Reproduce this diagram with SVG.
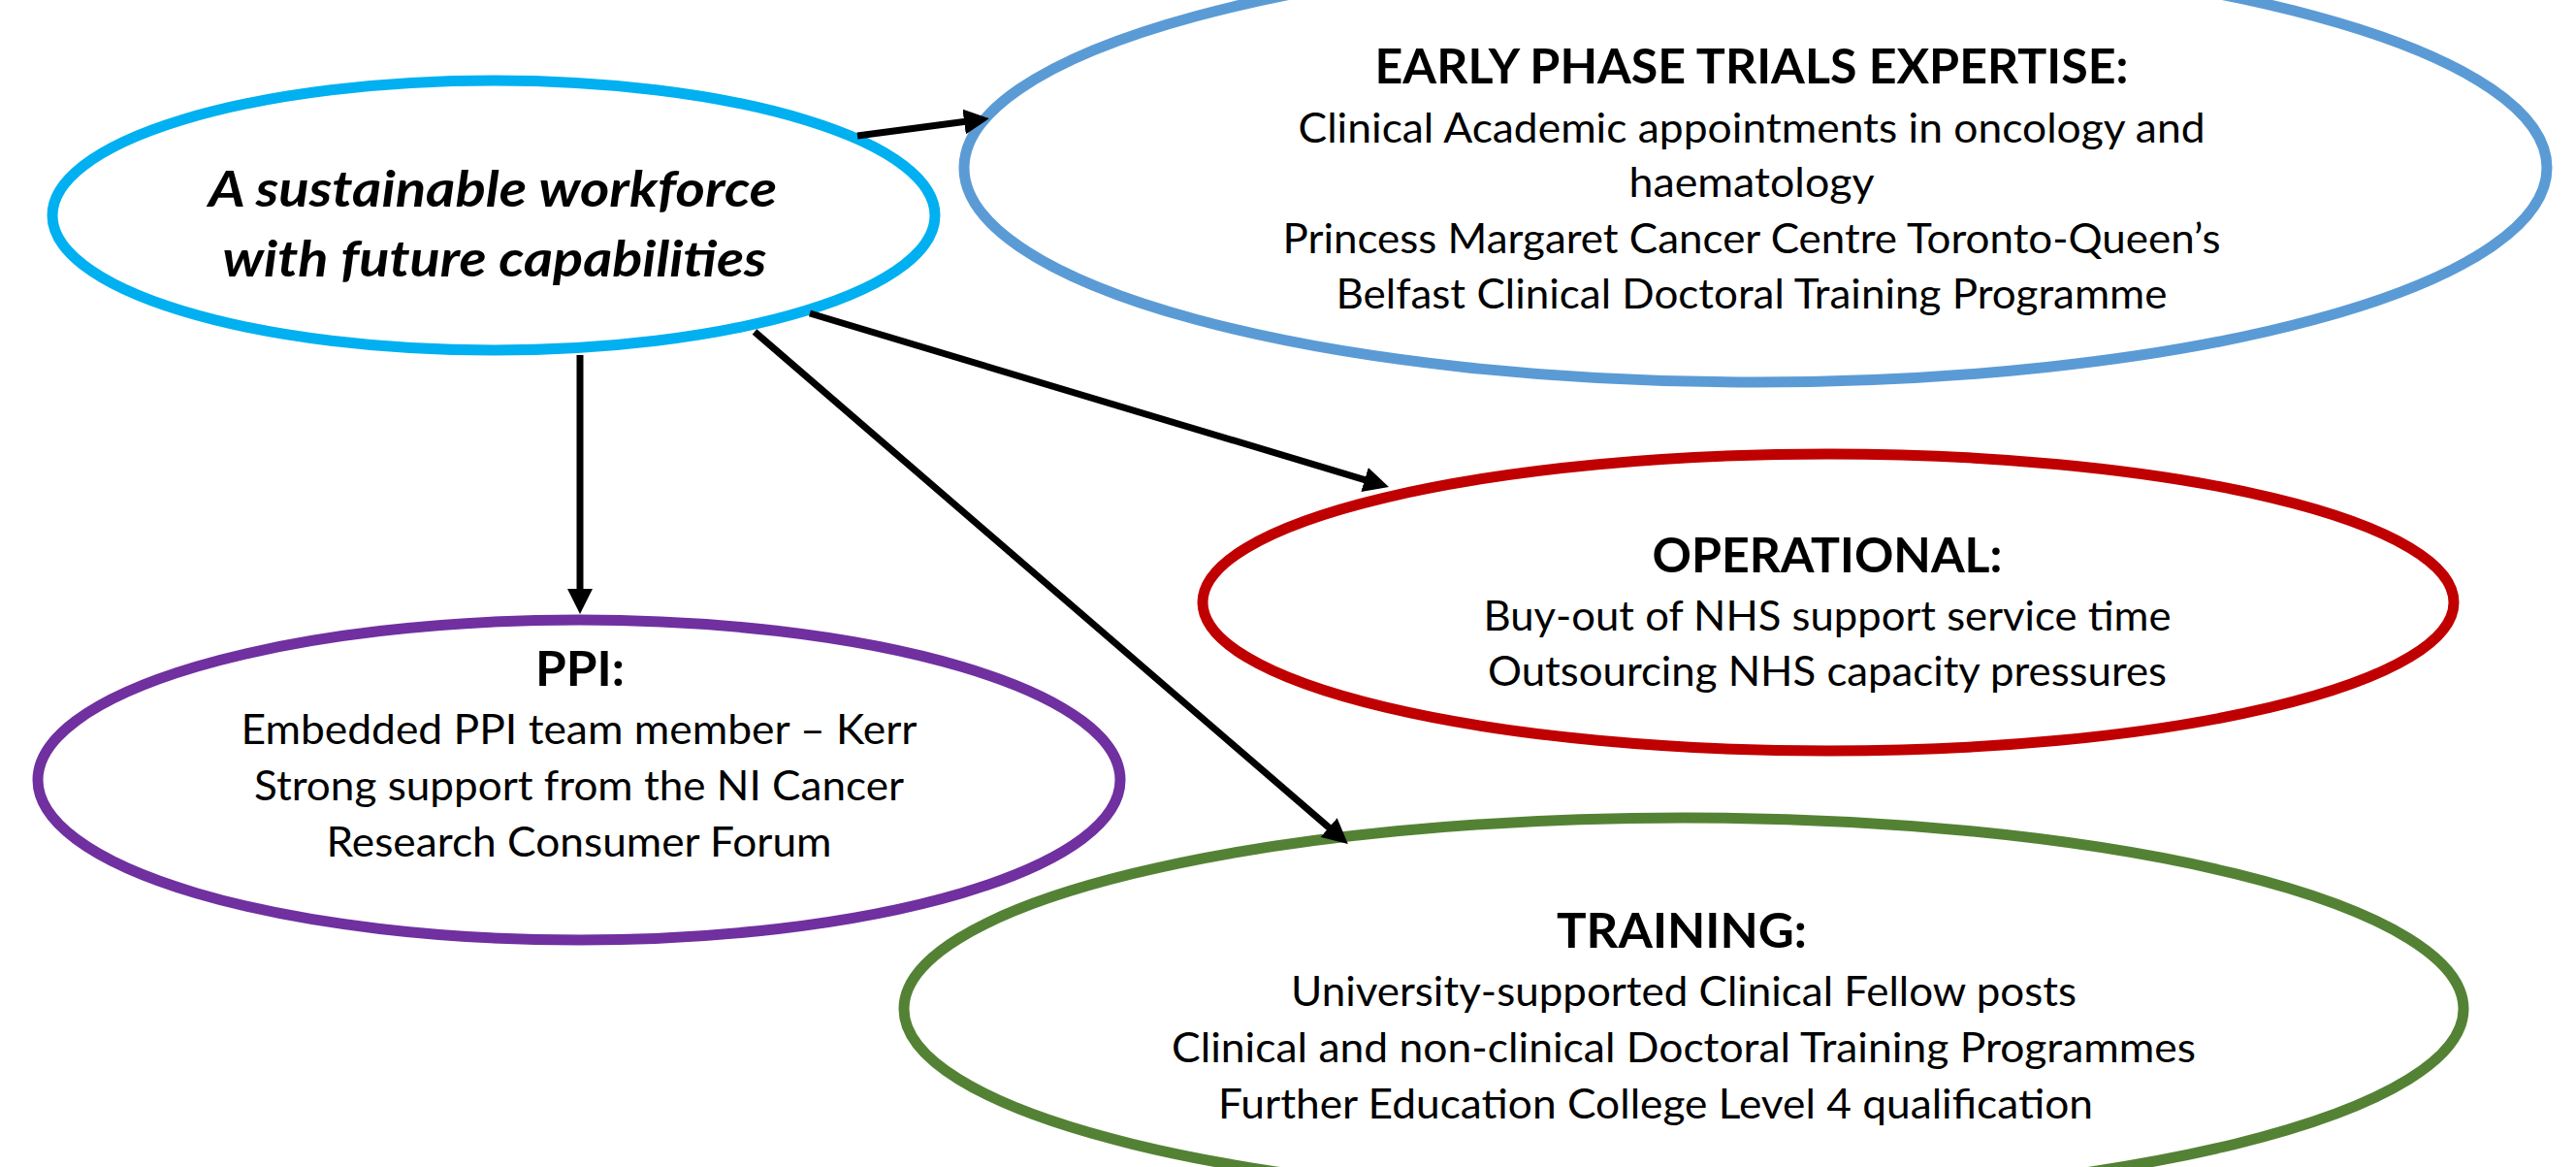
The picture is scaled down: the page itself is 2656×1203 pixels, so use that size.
<svg xmlns="http://www.w3.org/2000/svg" width="2656" height="1203" viewBox="0 0 2656 1203">
<style>
.node{fill:#ffffff;stroke-width:11}
.h{font-family:Lato,"Liberation Sans",sans-serif;font-weight:bold;font-size:50px;fill:#000;text-anchor:middle}
.b{font-family:Lato,"Liberation Sans",sans-serif;font-size:42px;fill:#000;text-anchor:middle}
.c{font-family:Lato,"Liberation Sans",sans-serif;font-weight:bold;font-style:italic;font-size:51px;fill:#000;text-anchor:middle}
.conn{stroke:#000;stroke-width:7;fill:none;marker-end:url(#ah)}
</style>
<defs>
<marker id="ah" markerUnits="userSpaceOnUse" markerWidth="26" markerHeight="26" refX="13" refY="13" orient="auto">
<path d="M0,0 L26,13 L0,26 z" fill="#000"/>
</marker>
</defs>
<rect width="2656" height="1203" fill="#ffffff"/>
<g id="node-early">
<ellipse class="node" cx="1810" cy="173" rx="816" ry="221" stroke="#5B9BD5"/>
<text class="h" x="1806" y="86" textLength="777" lengthAdjust="spacingAndGlyphs">EARLY PHASE TRIALS EXPERTISE:</text>
<text class="b" x="1806" y="147" textLength="935" lengthAdjust="spacingAndGlyphs">Clinical Academic appointments in oncology and</text>
<text class="b" x="1806" y="203" textLength="253" lengthAdjust="spacingAndGlyphs">haematology</text>
<text class="b" x="1806" y="261" textLength="967" lengthAdjust="spacingAndGlyphs">Princess Margaret Cancer Centre Toronto-Queen’s</text>
<text class="b" x="1806" y="318" textLength="857" lengthAdjust="spacingAndGlyphs">Belfast Clinical Doctoral Training Programme</text>
</g>
<g id="node-operational">
<ellipse class="node" cx="1885" cy="621" rx="645" ry="153" stroke="#C00000"/>
<text class="h" x="1884" y="590" textLength="361" lengthAdjust="spacingAndGlyphs">OPERATIONAL:</text>
<text class="b" x="1884" y="650" textLength="709" lengthAdjust="spacingAndGlyphs">Buy-out of NHS support service time</text>
<text class="b" x="1884" y="707" textLength="700" lengthAdjust="spacingAndGlyphs">Outsourcing NHS capacity pressures</text>
</g>
<g id="node-training">
<ellipse class="node" cx="1736" cy="1040" rx="804" ry="197" stroke="#548235" stroke-width="12"/>
<text class="h" x="1734" y="977" textLength="258" lengthAdjust="spacingAndGlyphs">TRAINING:</text>
<text class="b" x="1736" y="1037" textLength="810" lengthAdjust="spacingAndGlyphs">University-supported Clinical Fellow posts</text>
<text class="b" x="1736" y="1095" textLength="1056" lengthAdjust="spacingAndGlyphs">Clinical and non-clinical Doctoral Training Programmes</text>
<text class="b" x="1707" y="1153" textLength="902" lengthAdjust="spacingAndGlyphs">Further Education College Level 4 qualification</text>
</g>
<g id="node-ppi">
<ellipse class="node" cx="597" cy="804" rx="558" ry="165" stroke="#7030A0"/>
<text class="h" x="598" y="707" textLength="92" lengthAdjust="spacingAndGlyphs">PPI:</text>
<text class="b" x="597" y="767" textLength="697" lengthAdjust="spacingAndGlyphs">Embedded PPI team member – Kerr</text>
<text class="b" x="597" y="825" textLength="670" lengthAdjust="spacingAndGlyphs">Strong support from the NI Cancer</text>
<text class="b" x="597" y="883" textLength="521" lengthAdjust="spacingAndGlyphs">Research Consumer Forum</text>
</g>
<g id="node-central">
<ellipse class="node" cx="509" cy="222" rx="455" ry="139" stroke="#00B0F0"/>
<text class="c" x="508" y="213" textLength="586" lengthAdjust="spacingAndGlyphs">A sustainable workforce</text>
<text class="c" x="510" y="285" textLength="561" lengthAdjust="spacingAndGlyphs">with future capabilities</text>
</g>
<g id="connectors">
<line class="conn" x1="884" y1="140" x2="1007" y2="123.8"/>
<line class="conn" x1="598" y1="366" x2="598" y2="620"/>
<line class="conn" x1="835" y1="323" x2="1419.5" y2="498.3"/>
<line class="conn" x1="778" y1="342" x2="1380" y2="861.5"/>
</g>
</svg>
